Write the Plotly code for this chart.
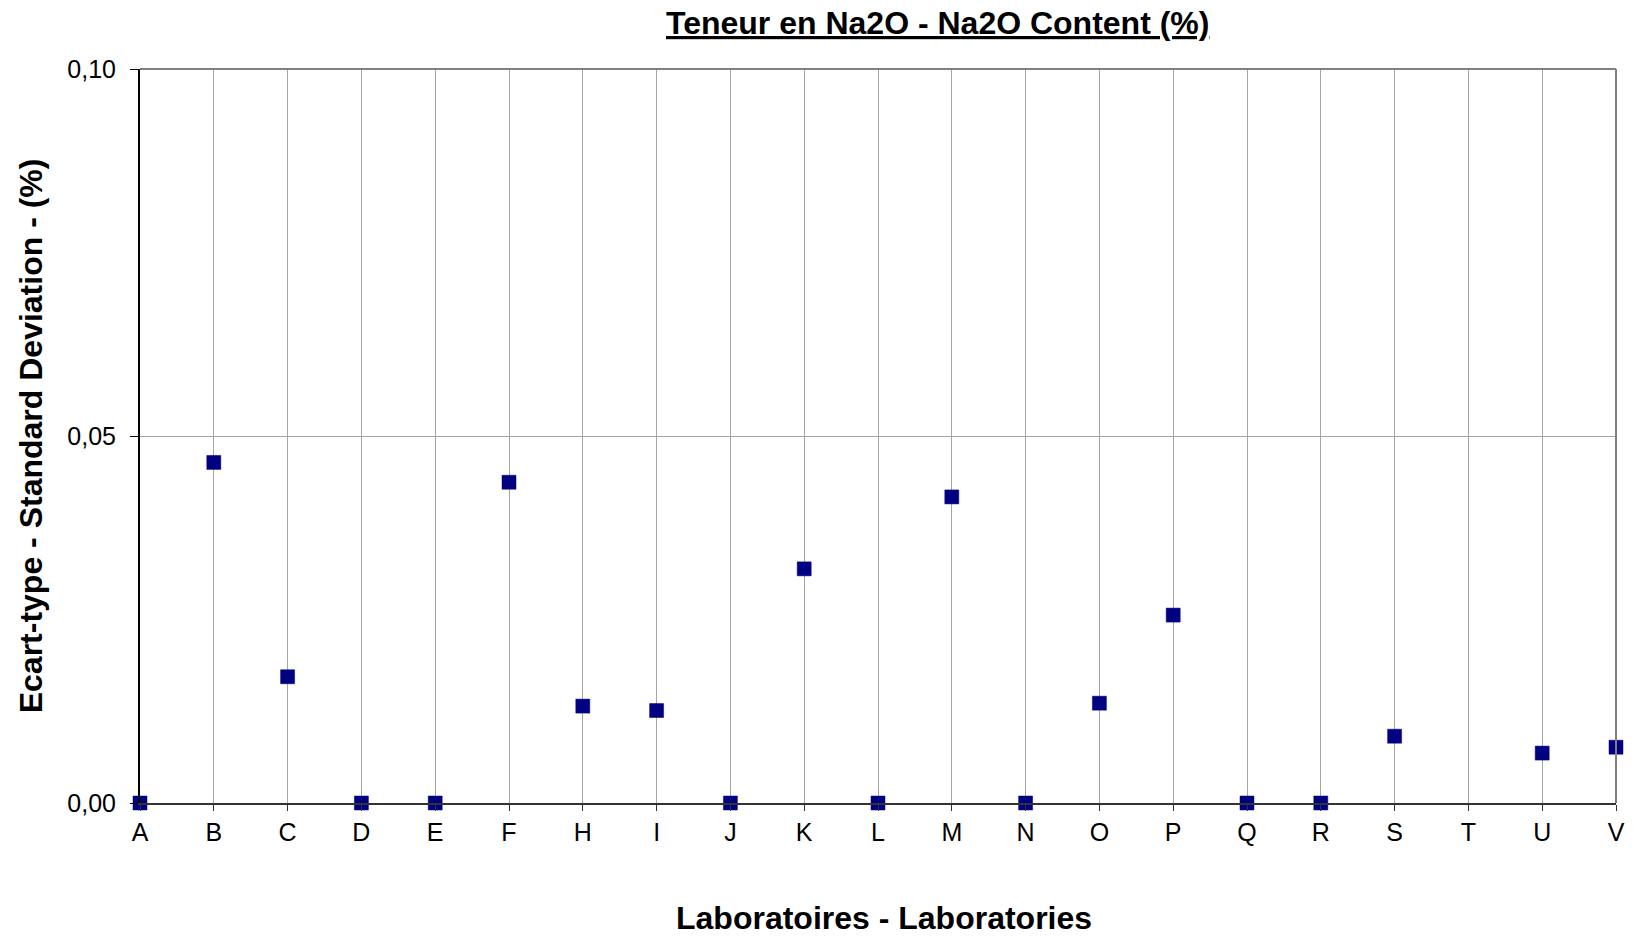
import plotly.graph_objects as go

# Laboratories and their standard deviation for Na2O content (%)
labs = ["A", "B", "C", "D", "E", "F", "H", "I", "J", "K", "L",
        "M", "N", "O", "P", "Q", "R", "S", "T", "U", "V"]
std_dev = [0.0, 0.0464, 0.0172, 0.0, 0.0, 0.0437, 0.0132, 0.0126, 0.0, 0.0319, 0.0,
           0.0417, 0.0, 0.0136, 0.0256, 0.0, 0.0, 0.0091, None, 0.0068, 0.0076]
y_ticks = [0.0, 0.05, 0.10]

W, H = 1637, 936
L, R, T, B = 140, 17, 69, 133

fig = go.Figure()
fig.add_trace(go.Scatter(
    x=labs, y=std_dev, mode="markers",
    marker=dict(symbol="square", size=14, color="#000080",
                line=dict(width=0.5, color="#000080")),
    cliponaxis=False, showlegend=False,
))

fig.update_layout(
    width=W, height=H,
    margin=dict(l=L, r=R, t=T, b=B),
    paper_bgcolor="white", plot_bgcolor="white",
    separators=", ",
    font=dict(family="Liberation Sans, Arial, sans-serif", color="black", size=25),
    xaxis=dict(
        type="category", range=[0, len(labs) - 1],
        showgrid=True, gridcolor="#a6a6a6", gridwidth=1,
        showline=True, linecolor="#333333", linewidth=2,
        ticks="outside", ticklen=6, tickcolor="#333333", tickwidth=1,
        tickfont=dict(size=25), ticklabelstandoff=0,
        zeroline=False,
    ),
    yaxis=dict(
        range=[0, 0.10], tickvals=y_ticks, tickformat=".2f",
        showgrid=True, gridcolor="#a6a6a6", gridwidth=1,
        showline=True, linecolor="black", linewidth=2,
        ticks="outside", ticklen=8, tickcolor="black", tickwidth=1,
        tickfont=dict(size=25), ticklabelstandoff=9,
        zeroline=False,
    ),
    shapes=[
        dict(type="line", xref="paper", yref="paper", x0=0, x1=1, y0=1, y1=1,
             line=dict(color="#808080", width=2)),
        dict(type="line", xref="paper", yref="paper", x0=1, x1=1, y0=0, y1=1,
             line=dict(color="#808080", width=2)),
    ],
    annotations=[
        dict(text="<b><u>Teneur en Na2O - Na2O Content (%)</u></b>",
             xref="paper", yref="paper",
             x=(940 - L) / (W - L - R), y=1 + (T - 23) / (H - T - B),
             xanchor="center", yanchor="middle", showarrow=False,
             font=dict(size=32)),
        dict(text="<b>Laboratoires - Laboratories</b>",
             xref="paper", yref="paper",
             x=(886 - L) / (W - L - R), y=-(918 - (H - B)) / (H - T - B),
             xanchor="center", yanchor="middle", showarrow=False,
             font=dict(size=32)),
        dict(text="<b>Ecart-type - Standard Deviation - (%)</b>",
             xref="paper", yref="paper", textangle=-90,
             x=-(L - 31) / (W - L - R), y=1 - (436 - T) / (H - T - B),
             xanchor="center", yanchor="middle", showarrow=False,
             font=dict(size=32)),
    ],
)

fig.write_html("out.html")
